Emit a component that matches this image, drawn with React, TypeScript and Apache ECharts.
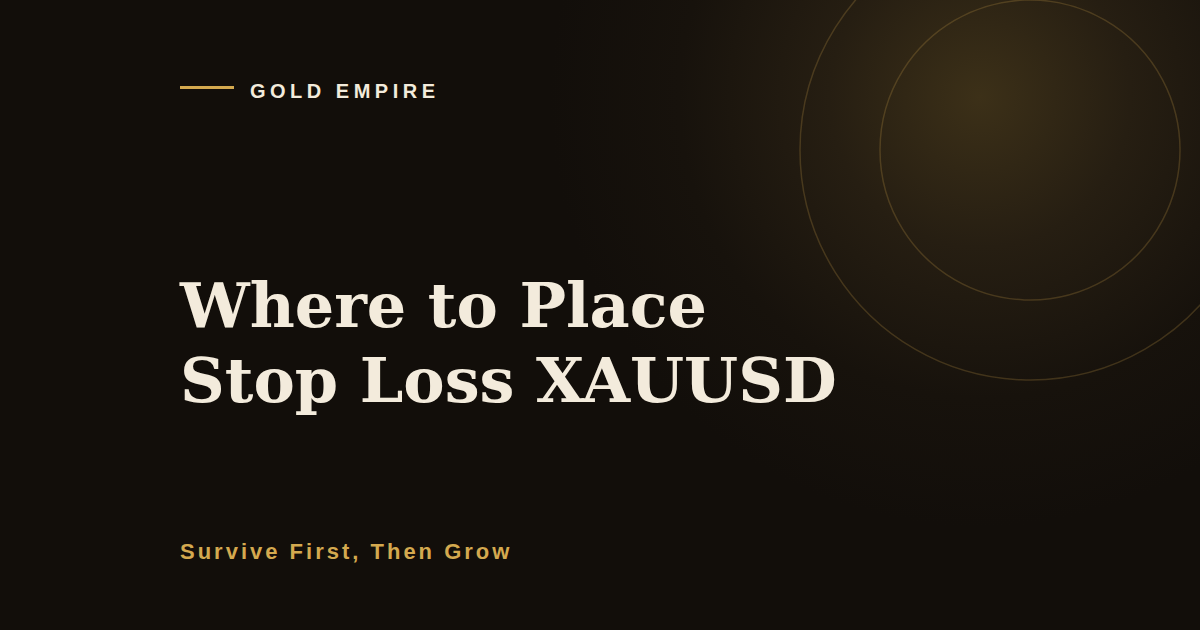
import { useEffect, useRef } from 'react';
import * as echarts from 'echarts';

// texts of the banner
const brandName = 'GOLD EMPIRE';
const titleLines = ['Where to Place', 'Stop Loss XAUUSD'];
const tagline = 'Survive First, Then Grow';

// decorative rings, radius in px around one centre
const ringRadii = [150, 230];

// tracking (letter-spacing) of the small caps lines, px
const brandTracking = 4.5;
const taglineTracking = 3.0;

const GOLD = '#d4a94f';
const CREAM = '#f3ebdc';
const BG = '#120e0a';

const App = () => {
  const chartRef = useRef<HTMLDivElement>(null);

  useEffect(() => {
    if (!chartRef.current) return;
    const el = chartRef.current;
    const chart = echarts.init(el, undefined, { renderer: 'svg' });

    const W = 1200;
    const H = 630;
    const ringCx = 1030;
    const ringCy = 150;

    const option = {
      animation: false,
      backgroundColor: BG,
      graphic: [
        {
          type: 'rect',
          shape: { x: 0, y: 0, width: W, height: H },
          style: {
            fill: new echarts.graphic.RadialGradient(980, 97, 430, [
              { offset: 0, color: '#3c3018' },
              { offset: 0.35, color: '#261e12' },
              { offset: 0.7, color: '#17120c' },
              { offset: 1, color: BG }
            ], true)
          },
          silent: true
        },
        ...ringRadii.map(r => ({
          type: 'circle',
          shape: { cx: ringCx, cy: ringCy, r },
          style: { fill: 'none', stroke: 'rgba(212,169,79,0.22)', lineWidth: 1.5 },
          silent: true
        })),
        {
          type: 'rect',
          shape: { x: 180, y: 86, width: 54, height: 3 },
          style: { fill: GOLD }
        },
        {
          type: 'text',
          x: 250,
          y: 91,
          style: {
            text: brandName,
            fill: CREAM,
            font: 'bold 20px "Liberation Sans", Arial, sans-serif',
            verticalAlign: 'middle'
          }
        },
        ...titleLines.map((line, i) => ({
          type: 'text',
          x: 180,
          y: 305 + i * 75,
          style: {
            text: line,
            fill: CREAM,
            font: 'bold 62px "DejaVu Serif", serif',
            verticalAlign: 'middle'
          }
        })),
        {
          type: 'text',
          x: 180,
          y: 551,
          style: {
            text: tagline,
            fill: GOLD,
            font: 'bold 22px "Liberation Sans", Arial, sans-serif',
            verticalAlign: 'middle'
          }
        }
      ]
    };

    // zrender has no letter-spacing, so set it on the svg text nodes
    const applyTracking = () => {
      el.querySelectorAll('text').forEach(t => {
        if (t.textContent === brandName) t.setAttribute('letter-spacing', String(brandTracking));
        if (t.textContent === tagline) t.setAttribute('letter-spacing', String(taglineTracking));
      });
    };

    chart.on('finished', applyTracking);
    chart.setOption(option);
    applyTracking();

    return () => {
      chart.dispose();
    };
  }, []);

  return (
    <div
      ref={chartRef}
      style={{ position: 'fixed', left: 0, top: 0, width: '1200px', height: '630px' }}
    />
  );
};

export default App;
